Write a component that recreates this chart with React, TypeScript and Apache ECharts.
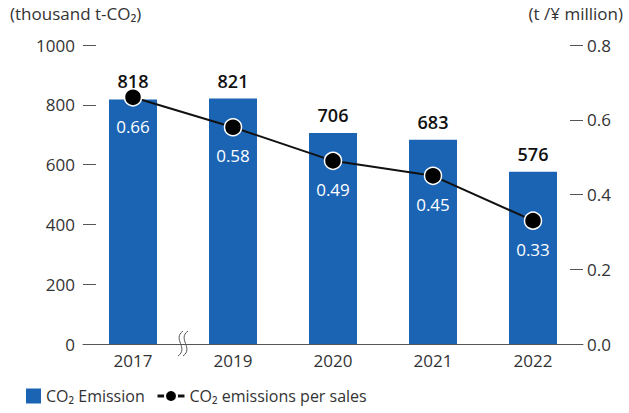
import React, { useEffect, useRef } from "react";
import * as echarts from "echarts";

const categories = ["2017", "2019", "2020", "2021", "2022"];
const emissions = [818, 821, 706, 683, 576];
const perSales = [0.66, 0.58, 0.49, 0.45, 0.33];
const leftTicks = [0, 200, 400, 600, 800, 1000];
const rightTicks = [0, 0.2, 0.4, 0.6, 0.8];

const FONT = "'Open Sans', 'Noto Sans', sans-serif";

export default function App() {
  const ref = useRef<HTMLDivElement>(null);
  useEffect(() => {
    if (!ref.current) return;
    const chart = echarts.init(ref.current, null, { renderer: "svg" });
    chart.setOption({
      animation: false,
      textStyle: { fontFamily: FONT },
      grid: { left: 83, right: 46, top: 45, bottom: 69 },
      legend: [
        {
          left: 21,
          bottom: 4,
          itemWidth: 15,
          itemHeight: 15,
          itemGap: 5,
          textStyle: { fontSize: 16, color: "#333", fontFamily: FONT },
          data: [{ name: "CO₂ Emission", icon: "rect" }],
        },
        {
          left: 151,
          bottom: 4,
          itemWidth: 27,
          itemHeight: 15,
          textStyle: { fontSize: 16, color: "#333", fontFamily: FONT },
          data: [{ name: "CO₂ emissions per sales", lineStyle: { width: 3 } }],
        },
      ],
      xAxis: {
        type: "category",
        data: categories,
        axisLine: { lineStyle: { color: "#555", width: 1 } },
        axisTick: { show: false },
        axisLabel: { fontSize: 17, color: "#333", margin: 8 },
      },
      yAxis: [
        {
          type: "value",
          min: leftTicks[0],
          max: leftTicks[leftTicks.length - 1],
          interval: 200,
          splitLine: { show: false },
          axisLine: { show: false },
          axisTick: { show: true, inside: true, length: 13, lineStyle: { color: "#555" } },
          axisLabel: { fontSize: 17, color: "#333", margin: 8, formatter: (v: number) => String(v) },
        },
        {
          type: "value",
          min: rightTicks[0],
          max: rightTicks[rightTicks.length - 1],
          interval: 0.2,
          splitLine: { show: false },
          axisLine: { show: false },
          axisTick: { show: true, inside: true, length: 13, lineStyle: { color: "#555" } },
          axisLabel: {
            fontSize: 17,
            color: "#333",
            margin: 4,
            formatter: (v: number) => v.toFixed(1),
          },
        },
      ],
      series: [
        {
          name: "CO₂ Emission",
          type: "bar",
          data: emissions,
          barWidth: 48,
          itemStyle: { color: "#1b64b4" },
          label: {
            show: true,
            position: "top",
            distance: 9,
            fontSize: 18,
            fontWeight: 600,
            color: "#111",
            fontFamily: FONT,
          },
        },
        {
          name: "CO₂ emissions per sales",
          type: "line",
          yAxisIndex: 1,
          data: perSales,
          symbol: "circle",
          symbolSize: 17,
          lineStyle: { color: "#111", width: 2 },
          itemStyle: { color: "#000", borderColor: "#fff", borderWidth: 1.5 },
          label: {
            show: true,
            position: "bottom",
            distance: 11,
            fontSize: 17,
            color: "#fff",
            fontFamily: FONT,
            formatter: (p: any) => p.value.toFixed(2),
          },
        },
      ],
      graphic: [
        {
          type: "text",
          left: 10,
          top: 5,
          style: { text: "(thousand t-CO₂)", fontSize: 17, fill: "#333", fontFamily: FONT },
        },
        {
          type: "text",
          x: 623,
          y: 5,
          style: {
            text: "(t /¥ million)",
            fontSize: 17,
            fill: "#333",
            fontFamily: FONT,
            align: "right",
            verticalAlign: "top",
          },
        },
        {
          type: "bezierCurve",
          shape: { x1: 183, y1: 331, cpx1: 172, cpy1: 339, cpx2: 189, cpy2: 348, x2: 178, y2: 356 },
          style: { stroke: "#555", lineWidth: 1, fill: "none" },
        },
        {
          type: "bezierCurve",
          shape: { x1: 188, y1: 331, cpx1: 177, cpy1: 339, cpx2: 194, cpy2: 348, x2: 183, y2: 356 },
          style: { stroke: "#555", lineWidth: 1, fill: "none" },
        },
      ],
    });
    return () => chart.dispose();
  }, []);
  return (
    <div
      ref={ref}
      style={{ position: "absolute", left: 0, top: 0, width: 629, height: 413 }}
    />
  );
}
